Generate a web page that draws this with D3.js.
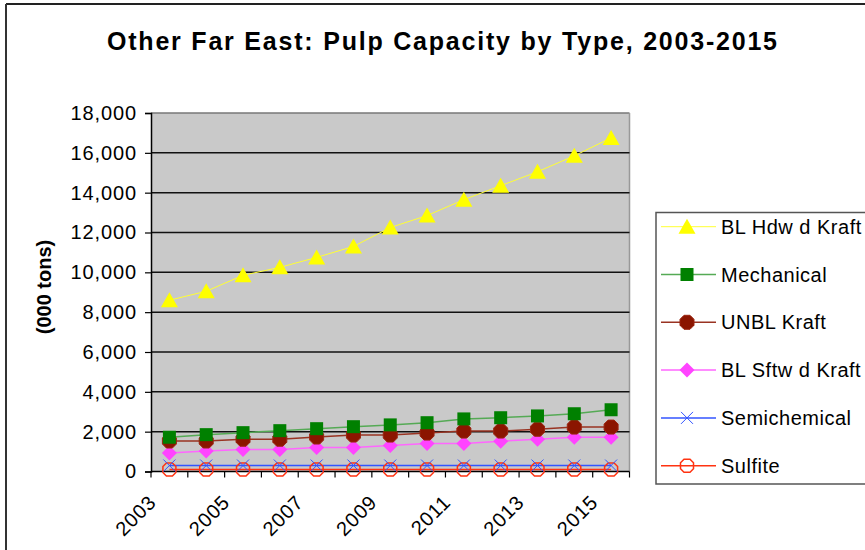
<!DOCTYPE html>
<html><head><meta charset="utf-8">
<script src="https://cdn.jsdelivr.net/npm/d3@7/dist/d3.min.js"></script>
<style>body{margin:0;background:#fff}svg{display:block;font-family:Arial,"Liberation Sans",sans-serif}</style>
</head><body><svg id="c" width="865" height="550"></svg>
<script>
const years = [2003,2004,2005,2006,2007,2008,2009,2010,2011,2012,2013,2014,2015];
const yTicks = [0,2000,4000,6000,8000,10000,12000,14000,16000,18000];
const xLabelYears = [2003,2005,2007,2009,2011,2013,2015];
const blHdwdKraft = [8600,9050,9850,10250,10750,11300,12250,12850,13650,14350,15050,15850,16750];
const mechanical = [1720,1850,1950,2050,2150,2250,2340,2450,2640,2700,2790,2900,3100];
const unblKraft = [1530,1530,1620,1620,1730,1830,1830,1930,2030,2030,2120,2230,2230];
const blSftwdKraft = [930,1030,1110,1110,1210,1210,1310,1410,1410,1520,1620,1720,1720];
const semichemical = [300,300,300,300,300,300,300,300,300,300,300,300,300];
const sulfite = [100,100,100,100,100,100,100,100,100,100,100,100,100];
const seriesNames = ["BL Hdw d Kraft","Mechanical","UNBL Kraft","BL Sftw d Kraft","Semichemical","Sulfite"];

const series = [
  {name:seriesNames[0], values:blHdwdKraft, line:"#FFFF33", lw:1, marker:"tri", fill:"#FFFF00", stroke:"none"},
  {name:seriesNames[1], values:mechanical, line:"#55AA55", lw:1.5, marker:"sq", fill:"#008000", stroke:"none"},
  {name:seriesNames[2], values:unblKraft, line:"#993322", lw:1.5, marker:"circ", fill:"#8B1500", stroke:"#9B2510"},
  {name:seriesNames[3], values:blSftwdKraft, line:"#FF66FF", lw:1.5, marker:"dia", fill:"#FF44FF", stroke:"none"},
  {name:seriesNames[4], values:semichemical, line:"#3355FF", lw:1.5, marker:"x", fill:"none", stroke:"#3355FF"},
  {name:seriesNames[5], values:sulfite, line:"#FF3311", lw:1.5, marker:"ocirc", fill:"none", stroke:"#FF3311"}
];

const svg = d3.select("#c");
// outer border
svg.append("line").attr("x1",6).attr("x2",865).attr("y1",4).attr("y2",4).attr("stroke","#222").attr("stroke-width",2);
svg.append("line").attr("x1",6).attr("x2",6).attr("y1",4).attr("y2",550).attr("stroke","#333").attr("stroke-width",2);

const L=151, R=629.5, T=113, B=471.5;
const x = d3.scaleBand().domain(years).range([L,R]);
const y = d3.scaleLinear().domain([0,18000]).range([B,T]);

svg.append("rect").attr("x",L).attr("y",T).attr("width",R-L).attr("height",B-T).attr("fill","#C9C9C9");
// plot border top/right
svg.append("line").attr("x1",L).attr("x2",R).attr("y1",T).attr("y2",T).attr("stroke","#777").attr("stroke-width",1.5);
svg.append("line").attr("x1",R).attr("x2",R).attr("y1",T).attr("y2",B).attr("stroke","#999").attr("stroke-width",1.5);
// gridlines
svg.append("g").selectAll("line").data(yTicks.filter(d=>d>0 && d<18000)).join("line")
  .attr("x1",L).attr("x2",R).attr("y1",d=>y(d)).attr("y2",d=>y(d))
  .attr("stroke","#111").attr("stroke-width",1.5);

// y axis
const yAxis = d3.axisLeft(y).tickValues(yTicks).tickFormat(d3.format(",")).tickSize(6).tickPadding(8);
const gy = svg.append("g").attr("transform",`translate(${L},0)`).call(yAxis);
gy.select(".domain").attr("stroke","#000").attr("stroke-width",1.5);
gy.selectAll(".tick line").attr("stroke","#000").attr("stroke-width",1.2);
gy.selectAll("text").attr("font-size",20).attr("letter-spacing","0.9px").attr("fill","#000").attr("font-family","Arial, 'Liberation Sans', sans-serif");

// x axis
const gx = svg.append("g").attr("transform",`translate(0,${B})`);
gx.append("line").attr("x1",L).attr("x2",R).attr("stroke","#000").attr("stroke-width",1.5);
const bounds = years.map(d=>x(d)).concat([R]);
gx.selectAll("line.t").data(bounds).join("line").attr("class","t")
  .attr("x1",d=>d).attr("x2",d=>d).attr("y1",0).attr("y2",6).attr("stroke","#000").attr("stroke-width",1.2);
gx.selectAll("text").data(xLabelYears).join("text")
  .attr("transform",d=>`translate(${x(d)+x.bandwidth()/2-12},${32}) rotate(-45)`)
  .attr("text-anchor","end").attr("font-size",20).attr("letter-spacing","0.8px").attr("fill","#000").text(d=>d);

// y title
svg.append("text").attr("transform","translate(51,287) rotate(-90)").attr("text-anchor","middle")
  .attr("font-size",20).attr("font-weight","bold").text("(000 tons)");
// title
svg.append("text").attr("x",107).attr("y",50)
  .attr("font-size",25).attr("font-weight","bold").attr("textLength",670).attr("lengthAdjust","spacing")
  .text("Other Far East: Pulp Capacity by Type, 2003-2015");

function drawMarker(g, type, s){
  if(type==="tri") g.append("path").attr("d","M0,-8L8.5,7L-8.5,7Z").attr("fill",s.fill);
  else if(type==="sq") g.append("rect").attr("x",-6.5).attr("y",-6.5).attr("width",13).attr("height",13).attr("fill",s.fill);
  else if(type==="circ") g.append("path").attr("d","M-3,-7L3,-7L7,-3L7,3L3,7L-3,7L-7,3L-7,-3Z").attr("fill",s.fill).attr("stroke",s.stroke).attr("stroke-width",1);
  else if(type==="dia") g.append("path").attr("d","M0,-7.5L7.5,0L0,7.5L-7.5,0Z").attr("fill",s.fill);
  else if(type==="x") g.append("path").attr("d","M-6,-6L6,6M6,-6L-6,6").attr("stroke",s.stroke).attr("stroke-width",1);
  else if(type==="ocirc") g.append("path").attr("d","M-3,-6.5L3,-6.5L6.5,-3L6.5,3L3,6.5L-3,6.5L-6.5,3L-6.5,-3Z").attr("fill","none").attr("stroke",s.stroke).attr("stroke-width",1.5);
}

const line = d3.line().x((d,i)=>x(years[i])+x.bandwidth()/2).y(d=>y(d));
const drawOrder = [5,4,3,2,1,0];
drawOrder.forEach(k=>{
  const s = series[k];
  svg.append("path").datum(s.values).attr("d",line).attr("fill","none").attr("stroke",s.line).attr("stroke-width",s.lw);
});
drawOrder.forEach(k=>{
  const s = series[k];
  s.values.forEach((v,i)=>{
    const g = svg.append("g").attr("transform",`translate(${x(years[i])+x.bandwidth()/2},${y(v)})`);
    drawMarker(g, s.marker, s);
  });
});

// legend
const lg = svg.append("g");
lg.append("rect").attr("x",656).attr("y",212.5).attr("width",230).attr("height",271.5).attr("fill","#fff").attr("stroke","#555").attr("stroke-width",1.5);
series.forEach((s,i)=>{
  const cy = 226.7 + i*47.8;
  lg.append("line").attr("x1",661).attr("x2",716).attr("y1",cy).attr("y2",cy).attr("stroke",s.line).attr("stroke-width",s.lw);
  const g = lg.append("g").attr("transform",`translate(687,${cy})`);
  drawMarker(g, s.marker, s);
  lg.append("text").attr("x",721).attr("y",cy+7).attr("font-size",20).attr("letter-spacing","0.5px").attr("fill","#000").text(s.name);
});
</script></body></html>
